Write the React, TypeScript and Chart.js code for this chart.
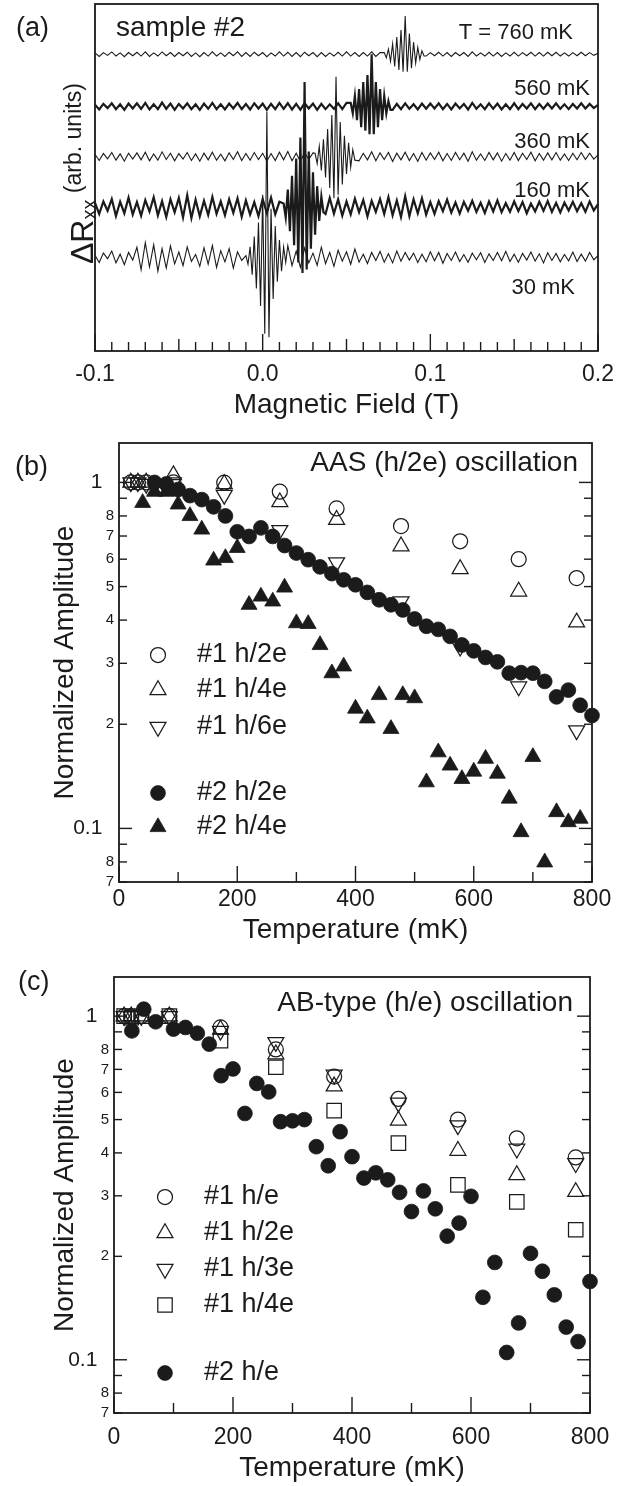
import React, { useEffect, useRef } from "react";
import { Chart, registerables } from "chart.js";

Chart.register(...registerables);

const FONT = "'Liberation Sans', Arial, Helvetica, sans-serif";
const INK = "#1b1b1b";

// ---------------- Panel (a): ΔRxx traces ----------------
const traceNames = ["T = 760 mK", "560 mK", "360 mK", "160 mK", "30 mK"];
const traceOffsets = [85.5, 70.5, 56, 41.5, 27];
const noiseStartField = -0.1;
const noiseStepField = 0.0025;
const packetStepField = 0.00125;
const packetStartFields = [0.0725, 0.0525, 0.03125, 0.0125, -0.01];

const noise760 = [
  0.4, -0.6, 0.5, -0.3, 0.7, -0.5, 0.4, -0.7, 0.5, -0.4,
  0.6, -0.5, 0.7, -0.6, 0.4, -0.5, 0.7, -0.4, 0.5, -0.6,
  0.5, -0.4, 0.6, -0.6, 0.4, -0.7, 0.5, -0.5, 0.7, -0.5,
  0.4, -0.6, 0.6, -0.4, 0.7, -0.6, 0.5, -0.6, 0.6, -0.4,
  0.5, -0.7, 0.4, -0.5, 0.7, -0.5, 0.6, -0.6, 0.5, -0.7,
  0.6, -0.4, 0.5, -0.7, 0.5, -0.6, 0.4, -0.5, 0.6, -0.5,
  0.7, -0.5, 0.5, -0.6, 0.5, -0.5, 0.7, -0.6, 0.5, -0.4,
  0.6, -0.7, 0.5, -0.5, 0.6, -0.4, 0.4, -0.6, 0.5, -0.5,
  0.5, -0.4, 0.6, -0.5, 0.5, -0.6, 0.5, -0.4, 0.5, -0.6,
  0.7, -0.5, 0.4, -0.5, 0.6, -0.5, 0.5, -0.6, 0.4, -0.5,
  0.6, -0.5, 0.5, -0.4, 0.6, -0.5, 0.5, -0.5, 0.6, -0.4,
  0.6, -0.5, 0.4, -0.5, 0.5, -0.4, 0.6, -0.4, 0.5, -0.3, 0.3,
];
const noise560 = [
  0.5, -0.9, 0.7, -0.5, 0.9, -0.8, 0.6, -1.0, 0.8, -0.6,
  0.9, -0.7, 1.0, -0.9, 0.6, -0.8, 1.1, -0.7, 0.8, -1.0,
  0.7, -0.6, 0.9, -0.8, 0.6, -1.0, 0.8, -0.7, 1.0, -0.8,
  0.6, -0.9, 0.8, -0.6, 1.0, -0.8, 0.7, -0.9, 0.9, -0.6,
  0.8, -1.0, 0.7, -0.8, 1.0, -0.7, 0.9, -0.9, 0.7, -1.0,
  0.9, -0.6, 0.8, -1.0, 0.7, -0.8, 0.6, -0.7, 0.9, -0.8,
  1.0, -0.8, 0.7, -0.9, 0.8, -0.7, 1.0, -0.9, 0.8, -0.6,
  0.9, -1.0, 0.7, -0.8, 0.9, -0.7, 0.6, -0.9, 0.8, -0.7,
  0.8, -0.6, 0.9, -0.8, 0.7, -0.9, 0.8, -0.6, 0.7, -0.9,
  1.0, -0.7, 0.6, -0.8, 0.9, -0.7, 0.8, -0.9, 0.6, -0.8,
  0.9, -0.8, 0.7, -0.6, 0.9, -0.8, 0.7, -0.7, 0.8, -0.6,
  0.9, -0.7, 0.6, -0.8, 0.7, -0.6, 0.9, -0.6, 0.7, -0.5, 0.4,
];
const noise360 = [
  0.7, -1.1, 0.9, -0.6, 1.2, -1.0, 0.8, -1.3, 1.0, -0.7,
  1.1, -0.9, 1.3, -1.2, 0.8, -1.0, 1.4, -0.8, 1.0, -1.2,
  0.9, -0.7, 1.2, -1.1, 0.8, -1.3, 1.0, -0.9, 1.3, -1.0,
  0.7, -1.2, 1.1, -0.8, 1.4, -1.1, 0.9, -1.0, 1.2, -0.8,
  1.0, -1.3, 0.9, -1.1, 1.3, -0.9, 1.5, -1.2, 1.0, -1.4,
  1.2, -0.8, 1.1, -1.3, 0.9, -1.1, 1.4, -1.0, 1.2, -0.9,
  1.3, -1.1, 0.8, -1.2, 1.0, -0.9, 1.4, -1.2, 1.1, -0.8,
  1.2, -1.4, 1.0, -0.9, 1.3, -1.1, 0.9, -1.3, 1.2, -1.0,
  1.1, -0.8, 1.3, -1.2, 0.9, -1.1, 1.2, -0.9, 1.0, -1.3,
  1.4, -1.0, 0.8, -1.1, 1.2, -0.9, 1.1, -1.3, 0.9, -1.0,
  1.2, -1.1, 1.0, -0.8, 1.3, -1.2, 0.9, -1.0, 1.1, -0.9,
  1.2, -1.0, 0.8, -1.1, 1.0, -0.9, 1.2, -0.8, 1.0, -0.7, 0.5,
];
const noise160 = [
  1.2, -2.0, 1.6, -1.1, 2.3, -2.6, 1.5, -1.8, 2.7, -2.2,
  1.4, -2.5, 2.0, -1.3, 2.8, -2.4, 1.7, -2.9, 2.2, -1.5,
  2.6, -3.0, 3.4, -3.2, 2.1, -2.7, 1.8, -2.3, 2.9, -2.0,
  1.6, -2.4, 2.2, -1.7, 2.5, -2.8, 1.9, -2.2, 1.4, -2.6,
  2.3, -1.8, 2.7, -2.1, 1.5, -2.4, 2.0, -1.6, 2.5, -2.2,
  1.8, -2.6, 3.0, -2.3, 1.7, -2.0, 2.6, -1.9, 2.2, -2.5,
  1.6, -2.1, 2.4, -1.5, 2.0, -2.7, 1.8, -1.4, 2.3, -2.0,
  2.8, -2.4, 1.9, -2.9, 3.1, -2.6, 2.2, -1.8, 2.5, -2.2,
  1.4, -2.0, 1.7, -1.2, 2.1, -1.6, 1.3, -1.9, 1.5, -1.1,
  1.8, -1.4, 1.2, -1.7, 1.6, -1.3, 1.9, -1.5, 1.1, -1.4,
  1.6, -1.2, 1.4, -1.8, 1.0, -1.3, 1.5, -1.1, 1.7, -1.4,
  1.2, -1.6, 1.3, -1.0, 1.5, -1.2, 1.1, -1.4, 1.6, -1.0, 0.8,
];
const noise30 = [
  0.6, -1.5, 1.2, -0.4, 1.8, -1.6, 0.9, -2.1, 1.4, -0.8,
  2.9, -3.6, 4.2, -2.8, 3.6, -4.0, 2.5, -3.1, 3.3, -1.9,
  1.5, -2.4, 3.0, -1.2, 0.8, -2.6, 2.7, -2.0, 3.4, -2.9,
  1.9, -1.3, 2.5, -3.1, 1.6, -0.9, 2.2, -2.4, 2.8, -3.2,
  2.1, -2.7, 1.7, -2.1, 2.6, -3.2, 3.4, -2.4, 1.8, -2.9,
  2.7, -1.6, 1.2, -2.3, 2.9, -1.8, 1.4, -2.6, 2.0, -1.1,
  1.6, -2.0, 2.4, -1.4, 0.9, -1.8, 1.4, -0.9, 1.7, -1.4,
  1.0, -1.6, 1.8, -1.1, 1.4, -0.8, 1.2, -1.5, 0.9, -1.3,
  1.6, -1.0, 1.4, -1.7, 1.1, -0.9, 1.5, -1.2, 0.8, -1.4,
  1.2, -0.7, 1.3, -1.5, 1.0, -0.9, 1.4, -1.0, 1.7, -1.2,
  0.9, -1.4, 1.1, -0.8, 1.5, -1.1, 1.0, -1.6, 1.3, -0.9,
  1.1, -1.3, 0.8, -1.0, 1.5, -1.2, 0.9, -1.1, 1.4, -0.7, 0.5,
];

const packet760 = [0.5, -1, 1.5, -2, 3, -3.5, 5, -4.5, 7, -5, 11, -5, 6, -4, 3.5, -2.5, 2, -1.5, 1, -0.5];
const packet560 = [1, -2, 3, -4, 5, -6, 7, -7, 9, -8, 15, -8, 7, -6, 5, -4, 3, -2, 1.5, -1];
const packet360 = [1, -2, 3, -4, 5, -6, 8, -9, 12, -12, 23, -11, 10, -8, 6, -5, 4, -3, 2, -1];
const packet160 = [1, -3, 5, -7, 9, -11, 14, -16, 20, -19, 36, -18, 16, -12, 10, -8, 6, -4, 3, -1.5];
const packet30 = [0.5, -2, 3, -5, 6, -9, 10, -14, 18, -22, 42, -23, 14, -12, 9, -7, 5, -4, 3, -1.5];

const traceNoise = [noise760, noise560, noise360, noise160, noise30];
const tracePackets = [packet760, packet560, packet360, packet160, packet30];
const fieldTickValues = Array.from({ length: 31 }, (_, i) => Math.round((-0.1 + i * 0.01) * 1000) / 1000);

// ---------------- Panel (b): AAS (h/2e) ----------------
const tempB1 = [20, 32, 46, 92, 178, 272, 368, 477, 577, 676, 774];
const ampB1_h2e = [1, 1, 1, 1, 0.998, 0.94, 0.841, 0.748, 0.676, 0.6, 0.529];
const ampB1_h4e = [1, 1, 1, 1.05, 0.99, 0.877, 0.78, 0.654, 0.562, 0.484, 0.394];
const ampB1_h6e = [1, 1, 0.99, 1.0, 0.92, 0.728, 0.587, 0.453, 0.335, 0.257, 0.192];
const tempB2_h2e = [60, 80, 100, 120, 140, 160, 180, 200, 220, 240, 260, 280, 300, 320, 340, 360, 380, 400, 420, 440, 460, 480, 500, 520, 540, 560, 580, 600, 620, 640, 660, 680, 700, 720, 740, 760, 780, 800];
const ampB2_h2e = [1.0, 0.99, 0.954, 0.916, 0.892, 0.85, 0.8, 0.72, 0.698, 0.739, 0.698, 0.657, 0.625, 0.598, 0.57, 0.545, 0.523, 0.506, 0.481, 0.458, 0.443, 0.428, 0.403, 0.384, 0.376, 0.359, 0.339, 0.326, 0.312, 0.303, 0.281, 0.282, 0.281, 0.266, 0.24, 0.251, 0.227, 0.212];
const tempB2_h4e = [40, 60, 80, 100, 120, 140, 160, 180, 200, 220, 240, 260, 280, 300, 320, 340, 360, 380, 400, 420, 440, 460, 480, 500, 520, 540, 560, 580, 600, 620, 640, 660, 680, 700, 720, 740, 760, 780];
const ampB2_h4e = [0.873, 0.94, 0.94, 0.864, 0.8, 0.731, 0.595, 0.605, 0.647, 0.443, 0.468, 0.453, 0.497, 0.392, 0.39, 0.339, 0.281, 0.294, 0.222, 0.208, 0.243, 0.194, 0.243, 0.238, 0.136, 0.166, 0.152, 0.139, 0.146, 0.159, 0.144, 0.122, 0.0976, 0.161, 0.0798, 0.1115, 0.1043, 0.1067];
const labelsB = ["#1 h/2e", "#1 h/4e", "#1 h/6e", "#2 h/2e", "#2 h/4e"];

// ---------------- Panel (c): AB-type (h/e) ----------------
const tempC1 = [17, 29, 46, 93, 179, 272, 370, 478, 578, 677, 776];
const ampC1_he = [1, 1, 1, 1, 0.927, 0.8, 0.667, 0.574, 0.5, 0.441, 0.388];
const ampC1_h2e = [1, 1, 1, 1, 0.915, 0.775, 0.625, 0.497, 0.406, 0.345, 0.308];
const ampC1_h3e = [1, 1, 1, 1, 0.906, 0.84, 0.675, 0.56, 0.481, 0.411, 0.373];
const ampC1_h4e = [1, 0.99, 1, 1.0, 0.848, 0.71, 0.531, 0.427, 0.323, 0.288, 0.239];
const tempC2 = [30, 50, 70, 100, 120, 140, 160, 180, 200, 220, 240, 260, 280, 300, 320, 340, 360, 380, 400, 420, 440, 460, 480, 500, 520, 540, 560, 580, 600, 620, 640, 660, 680, 700, 720, 740, 760, 780, 800];
const ampC2_he = [0.906, 1.048, 0.963, 0.917, 0.927, 0.892, 0.829, 0.671, 0.702, 0.521, 0.637, 0.602, 0.493, 0.496, 0.5, 0.417, 0.367, 0.461, 0.39, 0.338, 0.35, 0.334, 0.307, 0.27, 0.31, 0.275, 0.229, 0.25, 0.299, 0.152, 0.192, 0.105, 0.128, 0.204, 0.181, 0.1545, 0.1245, 0.113, 0.169];
const labelsC = ["#1 h/e", "#1 h/2e", "#1 h/3e", "#1 h/4e", "#2 h/e"];

const tempTickValues = [0, 100, 200, 300, 400, 500, 600, 700, 800];
const ampTickValues = [0.07, 0.08, 0.09, 0.1, 0.2, 0.3, 0.4, 0.5, 0.6, 0.7, 0.8, 0.9, 1];

// ---------------- helpers ----------------
type Marker = { style: string; r: number; rot: number; filled: boolean };
const M_OCIRC: Marker = { style: "circle", r: 7.5, rot: 0, filled: false };
const M_OTRI: Marker = { style: "triangle", r: 9.2, rot: 0, filled: false };
const M_OTRID: Marker = { style: "triangle", r: 9.2, rot: 180, filled: false };
const M_OSQ: Marker = { style: "rect", r: 10.2, rot: 0, filled: false };
const M_FCIRC: Marker = { style: "circle", r: 7.4, rot: 0, filled: true };
const M_FTRI: Marker = { style: "triangle", r: 9.2, rot: 0, filled: true };
const OPEN_LW = 1.25;

function near(a: number, b: number) {
  return Math.abs(a - b) < 1e-6;
}

function buildTrace(noise: number[], packet: number[], pStart: number, offset: number) {
  const pEnd = pStart + packetStepField * (packet.length - 1);
  const pts: { x: number; y: number }[] = [];
  noise.forEach((v, i) => {
    const f = noiseStartField + i * noiseStepField;
    if (f < pStart - 1e-9 || f > pEnd + 1e-9) pts.push({ x: f, y: offset + v });
  });
  packet.forEach((v, i) => pts.push({ x: pStart + i * packetStepField, y: offset + v }));
  pts.sort((a, b) => a.x - b.x);
  return pts;
}

function drawMarker(ctx: CanvasRenderingContext2D, m: Marker, x: number, y: number) {
  ctx.save();
  ctx.beginPath();
  if (m.style === "circle") {
    ctx.arc(x, y, m.r, 0, Math.PI * 2);
  } else if (m.style === "triangle") {
    let a = (m.rot * Math.PI) / 180;
    for (let k = 0; k < 3; k++) {
      const px = x + Math.sin(a) * m.r;
      const py = y - Math.cos(a) * m.r;
      if (k === 0) ctx.moveTo(px, py);
      else ctx.lineTo(px, py);
      a += (2 * Math.PI) / 3;
    }
    ctx.closePath();
  } else {
    const s = Math.SQRT1_2 * m.r;
    ctx.rect(x - s, y - s, 2 * s, 2 * s);
  }
  ctx.strokeStyle = INK;
  if (m.filled) {
    ctx.fillStyle = INK;
    ctx.fill();
    ctx.lineWidth = 0.8;
  } else {
    ctx.lineWidth = OPEN_LW;
  }
  ctx.stroke();
  ctx.restore();
}

function scatterSet(label: string, xs: number[], ys: number[], m: Marker, order: number) {
  return {
    label,
    data: xs.map((x, i) => ({ x, y: ys[i] })),
    showLine: false,
    pointStyle: m.style,
    pointRadius: m.r,
    pointHoverRadius: m.r,
    pointRotation: m.rot,
    pointBackgroundColor: m.filled ? INK : "rgba(0,0,0,0)",
    pointBorderColor: INK,
    pointBorderWidth: m.filled ? 0.8 : OPEN_LW,
    clip: false,
    order,
  };
}

function line(ctx: CanvasRenderingContext2D, x1: number, y1: number, x2: number, y2: number) {
  ctx.beginPath();
  ctx.moveTo(x1, y1);
  ctx.lineTo(x2, y2);
  ctx.stroke();
}

// ---------------- chart (a) ----------------
function configA(): any {
  const widths = [1.1, 2.2, 1.1, 2.2, 1.1];
  const datasets = traceNames.map((name, i) => ({
    label: name,
    data: buildTrace(traceNoise[i], tracePackets[i], packetStartFields[i], traceOffsets[i]),
    borderColor: INK,
    borderWidth: widths[i],
    pointRadius: 0,
    tension: 0,
    fill: false,
    clip: false,
  }));
  const plugin = {
    id: "decorA",
    afterDraw(chart: any) {
      const ctx: CanvasRenderingContext2D = chart.ctx;
      const a = chart.chartArea;
      const xs = chart.scales.x;
      const ys = chart.scales.y;
      ctx.save();
      ctx.strokeStyle = INK;
      ctx.lineWidth = 1.4;
      xs.ticks.forEach((t: any) => {
        const px = xs.getPixelForValue(t.value);
        const k = Math.round(t.value * 100);
        const len = k % 10 === 0 ? 17 : k % 5 === 0 ? 12 : 9;
        line(ctx, px, a.bottom, px, a.bottom - len);
      });
      ctx.lineWidth = 1.8;
      ctx.strokeRect(a.left, a.top, a.right - a.left, a.bottom - a.top);
      ctx.fillStyle = INK;
      ctx.textBaseline = "middle";
      const rightInset = [25, 8, 8, 8, 23];
      const dy = [-21, -17, -15, -16, 31];
      ctx.font = `22px ${FONT}`;
      ctx.textAlign = "right";
      traceNames.forEach((n, i) => {
        ctx.fillText(n, a.right - rightInset[i], ys.getPixelForValue(traceOffsets[i]) + dy[i]);
      });
      ctx.textAlign = "left";
      ctx.font = `28px ${FONT}`;
      ctx.fillText("sample #2", 116, 28);
      ctx.font = `27px ${FONT}`;
      ctx.fillText("(a)", 16, 29);
      // y-axis label with subscript
      ctx.save();
      ctx.translate(93, 264);
      ctx.rotate(-Math.PI / 2);
      ctx.textAlign = "left";
      ctx.textBaseline = "alphabetic";
      ctx.font = `32px ${FONT}`;
      ctx.fillText("ΔR", 0, 0);
      let w = ctx.measureText("ΔR").width;
      ctx.font = `20px ${FONT}`;
      ctx.fillText("xx", w, 3);
      w += ctx.measureText("xx").width;
      ctx.font = `23px ${FONT}`;
      ctx.fillText(" (arb. units)", w, -12);
      ctx.restore();
      ctx.restore();
    },
  };
  return {
    type: "line",
    data: { datasets },
    plugins: [plugin],
    options: {
      animation: false,
      responsive: false,
      devicePixelRatio: 1,
      events: [],
      layout: { padding: { top: 4, right: 34, left: 95, bottom: 0 } },
      plugins: { legend: { display: false }, tooltip: { enabled: false } },
      scales: {
        x: {
          type: "linear",
          min: -0.1,
          max: 0.2,
          grid: { display: false, drawTicks: false },
          border: { display: false },
          afterBuildTicks: (s: any) => {
            s.ticks = fieldTickValues.map((v) => ({ value: v }));
          },
          afterFit: (s: any) => {
            s.height = 74;
          },
          ticks: {
            autoSkip: false,
            maxRotation: 0,
            padding: 10,
            color: INK,
            font: { family: FONT, size: 23 },
            callback: (v: any) => {
              const n = Number(v);
              const k = Math.round(n * 100);
              return k % 10 === 0 ? (Math.round(n * 10) / 10).toFixed(1) : "";
            },
          },
          title: {
            display: true,
            text: "Magnetic Field (T)",
            color: INK,
            font: { family: FONT, size: 28 },
            padding: { top: 0, bottom: 3 },
          },
        },
        y: { type: "linear", min: 0, max: 100, display: false },
      },
    },
  };
}

// ---------------- charts (b), (c) ----------------
type PanelCfg = {
  letter: string;
  letterX: number;
  letterY: number;
  heading: string;
  headingRight: number;
  headingY: number;
  legendX: number;
  textX: number;
  rows: number[];
  markers: Marker[];
  labels: string[];
};

function decorTemp(id: string, p: PanelCfg) {
  return {
    id,
    afterDraw(chart: any) {
      const ctx: CanvasRenderingContext2D = chart.ctx;
      const a = chart.chartArea;
      const xs = chart.scales.x;
      const ys = chart.scales.y;
      ctx.save();
      ctx.strokeStyle = INK;
      ctx.lineWidth = 1.4;
      xs.ticks.forEach((t: any) => {
        const px = xs.getPixelForValue(t.value);
        const len = Math.round(t.value) % 200 === 0 ? 16 : 10;
        line(ctx, px, a.bottom, px, a.bottom - len);
      });
      ys.ticks.forEach((t: any) => {
        const py = ys.getPixelForValue(t.value);
        const major = near(t.value, 1) || near(t.value, 0.1);
        const len = major ? 13 : 8;
        line(ctx, a.left, py, a.left + len, py);
        line(ctx, a.right, py, a.right - len, py);
      });
      ctx.lineWidth = 1.8;
      ctx.strokeRect(a.left, a.top, a.right - a.left, a.bottom - a.top);
      ctx.fillStyle = INK;
      ctx.textBaseline = "middle";
      ctx.textAlign = "left";
      ctx.font = `27px ${FONT}`;
      ctx.fillText(p.letter, p.letterX, p.letterY);
      ctx.textAlign = "right";
      ctx.font = `28px ${FONT}`;
      ctx.fillText(p.heading, p.headingRight, p.headingY);
      ctx.textAlign = "left";
      ctx.font = `27px ${FONT}`;
      p.labels.forEach((lab, i) => {
        drawMarker(ctx, p.markers[i], p.legendX, p.rows[i]);
        ctx.fillStyle = INK;
        ctx.fillText(lab, p.textX, p.rows[i]);
      });
      ctx.restore();
    },
  };
}

function tempOptions(padTop: number, padRight: number, yWidth: number, xHeight: number, tickPad: number, titlePadBottom: number) {
  return {
    animation: false,
    responsive: false,
    devicePixelRatio: 1,
    events: [],
    layout: { padding: { top: padTop, right: padRight, left: 0, bottom: 0 } },
    plugins: { legend: { display: false }, tooltip: { enabled: false } },
    scales: {
      x: {
        type: "linear",
        min: 0,
        max: 800,
        grid: { display: false, drawTicks: false },
        border: { display: false },
        afterBuildTicks: (s: any) => {
          s.ticks = tempTickValues.map((v) => ({ value: v }));
        },
        afterFit: (s: any) => {
          s.height = xHeight;
        },
        ticks: {
          autoSkip: false,
          maxRotation: 0,
          padding: tickPad,
          color: INK,
          font: { family: FONT, size: 23 },
          callback: (v: any) => (Math.round(Number(v)) % 200 === 0 ? String(Math.round(Number(v))) : ""),
        },
        title: {
          display: true,
          text: "Temperature (mK)",
          color: INK,
          font: { family: FONT, size: 28 },
          padding: { top: 0, bottom: titlePadBottom },
        },
      },
      y: {
        type: "logarithmic",
        min: 0.07,
        max: 1.3,
        grid: { display: false, drawTicks: false },
        border: { display: false },
        afterBuildTicks: (s: any) => {
          s.ticks = ampTickValues.map((v) => ({ value: v }));
        },
        afterFit: (s: any) => {
          s.width = yWidth;
        },
        ticks: {
          autoSkip: false,
          padding: 5,
          color: INK,
          font: (c: any) => {
            const v = c && c.tick ? c.tick.value : 0;
            return { family: FONT, size: near(v, 1) || near(v, 0.1) ? 21 : 15 };
          },
          callback: (v: any) => {
            const n = Number(v);
            if (near(n, 1)) return "1  ";
            if (near(n, 0.1)) return "0.1  ";
            if (near(n, 0.9) || near(n, 0.09)) return "";
            return n > 0.15 ? String(Math.round(n * 10)) : String(Math.round(n * 100));
          },
        },
        title: {
          display: true,
          text: "Normalized Amplitude",
          color: INK,
          font: { family: FONT, size: 28 },
          padding: { top: 48, bottom: 0 },
        },
      },
    },
  };
}

function configB(): any {
  const markers = [M_OCIRC, M_OTRI, M_OTRID, M_FCIRC, M_FTRI];
  const datasets = [
    scatterSet(labelsB[0], tempB1, ampB1_h2e, markers[0], 2),
    scatterSet(labelsB[1], tempB1, ampB1_h4e, markers[1], 2),
    scatterSet(labelsB[2], tempB1, ampB1_h6e, markers[2], 2),
    scatterSet(labelsB[3], tempB2_h2e, ampB2_h2e, markers[3], 0),
    scatterSet(labelsB[4], tempB2_h4e, ampB2_h4e, markers[4], 1),
  ];
  const plugin = decorTemp("decorB", {
    letter: "(b)",
    letterX: 15,
    letterY: 43,
    heading: "AAS (h/2e) oscillation",
    headingRight: 578,
    headingY: 38,
    legendX: 158,
    textX: 197,
    rows: [230, 265, 302, 368, 402],
    markers,
    labels: labelsB,
  });
  return { type: "scatter", data: { datasets }, plugins: [plugin], options: tempOptions(18, 40, 119, 73, 4, 8) };
}

function configC(): any {
  const markers = [M_OCIRC, M_OTRI, M_OTRID, M_OSQ, M_FCIRC];
  const datasets = [
    scatterSet(labelsC[0], tempC1, ampC1_he, markers[0], 2),
    scatterSet(labelsC[1], tempC1, ampC1_h2e, markers[1], 2),
    scatterSet(labelsC[2], tempC1, ampC1_h3e, markers[2], 2),
    scatterSet(labelsC[3], tempC1, ampC1_h4e, markers[3], 2),
    scatterSet(labelsC[4], tempC2, ampC2_he, markers[4], 0),
  ];
  const plugin = decorTemp("decorC", {
    letter: "(c)",
    letterX: 18,
    letterY: 28,
    heading: "AB-type (h/e) oscillation",
    headingRight: 573,
    headingY: 48,
    legendX: 165,
    textX: 204,
    rows: [242, 278, 314, 350, 418],
    markers,
    labels: labelsC,
  });
  return { type: "scatter", data: { datasets }, plugins: [plugin], options: tempOptions(22, 42, 114, 73, 10.7, 1) };
}

function ChartCanvas({ top, height, make }: { top: number; height: number; make: () => any }) {
  const ref = useRef<HTMLCanvasElement>(null);
  useEffect(() => {
    const chart = new Chart(ref.current as HTMLCanvasElement, make());
    return () => chart.destroy();
  }, []);
  return (
    <canvas
      ref={ref}
      width={632}
      height={height}
      style={{ position: "absolute", left: 0, top, width: 632, height, display: "block" }}
    />
  );
}

export default function App() {
  return (
    <div style={{ position: "absolute", left: 0, top: 0, width: 632, height: 1486, background: "#ffffff", overflow: "hidden" }}>
      <ChartCanvas top={0} height={425} make={configA} />
      <ChartCanvas top={425} height={530} make={configB} />
      <ChartCanvas top={955} height={531} make={configC} />
    </div>
  );
}
